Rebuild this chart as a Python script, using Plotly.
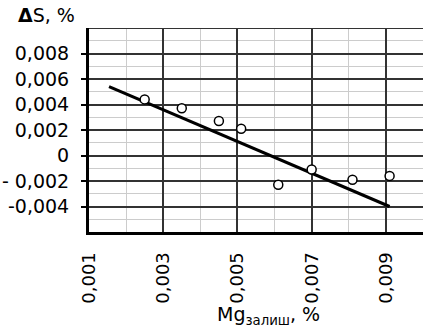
import plotly.graph_objects as go

# Data
mg = [0.0025, 0.0035, 0.0045, 0.0051, 0.0061, 0.0070, 0.0081, 0.0091]
ds = [0.0044, 0.0037, 0.0027, 0.0021, -0.0023, -0.0011, -0.0019, -0.0016]

trend_x = [0.00154, 0.0091]
trend_y = [0.0054, -0.0040]

x_ticks = [0.001, 0.003, 0.005, 0.007, 0.009]
x_ticktext = ["0,001", "0,003", "0,005", "0,007", "0,009"]
y_ticks = [0.008, 0.006, 0.004, 0.002, 0.0, -0.002, -0.004]
y_ticktext = ["0,008", "0,006", "0,004", "0,002", "0", "- 0,002", "-0,004"]

FONT = "DejaVu Sans"

fig = go.Figure()
fig.add_trace(go.Scatter(x=trend_x, y=trend_y, mode="lines",
                         line=dict(color="black", width=3), showlegend=False))
fig.add_trace(go.Scatter(x=mg, y=ds, mode="markers",
                         marker=dict(symbol="circle", size=9, color="white",
                                     line=dict(color="black", width=1.5)),
                         showlegend=False))

fig.update_layout(
    width=424, height=331,
    margin=dict(l=89, r=1, t=28, b=99, autoexpand=False),
    plot_bgcolor="white", paper_bgcolor="white",
    font=dict(family=FONT, size=18, color="black"),
    xaxis=dict(range=[0.001, 0.0100], tickvals=x_ticks, ticktext=x_ticktext,
               tickangle=-90, tickfont=dict(size=18),
               showgrid=True, gridcolor="#333333", gridwidth=1.5,
               minor=dict(dtick=0.001, tick0=0.001, showgrid=True, gridcolor="#cccccc", gridwidth=1),
               showline=True, linecolor="black", linewidth=3, zeroline=False,
               ticks="", ticklabelstandoff=10, automargin=False),
    yaxis=dict(range=[-0.006, 0.010], tickvals=y_ticks, ticktext=y_ticktext,
               tickfont=dict(size=19),
               showgrid=True, gridcolor="#333333", gridwidth=1.5,
               minor=dict(dtick=0.001, tick0=0.0, showgrid=True, gridcolor="#cccccc", gridwidth=1),
               showline=True, linecolor="black", linewidth=3, zeroline=False,
               ticks="outside", ticklen=5, tickwidth=2, tickcolor="black",
               ticklabelstandoff=8, automargin=False),
    shapes=[dict(type="line", xref="paper", yref="y", x0=0, x1=1, y0=0.010, y1=0.010,
                 line=dict(color="#333333", width=2))],
    annotations=[
        dict(text="<b>Δ</b>S, %", xref="paper", yref="paper",
             x=-0.035, y=1.0, xanchor="right", yanchor="bottom",
             showarrow=False, font=dict(size=19)),
        dict(text="Mg<sub>залиш</sub>, %", xref="paper", yref="paper",
             x=0.536, y=-0.41, xanchor="center", yanchor="middle",
             showarrow=False, font=dict(size=19)),
    ],
)

fig.write_html("out.html", config={"displayModeBar": False},
               post_script="document.body.style.margin='0';document.body.style.padding='0';")
